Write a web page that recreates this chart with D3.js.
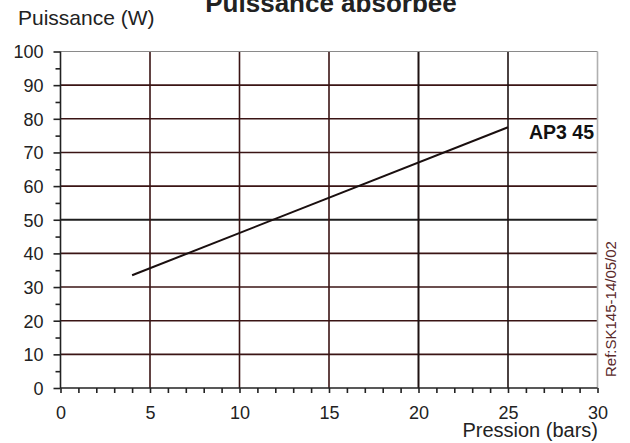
<!DOCTYPE html>
<html>
<head>
<meta charset="utf-8">
<script src="https://cdn.jsdelivr.net/npm/d3@7"></script>
<style>
  body { margin: 0; background: #fff; }
  svg { display: block; font-family: Arial, "Liberation Sans", sans-serif; }
</style>
</head>
<body>
<svg id="svg" width="630" height="443"></svg>
<script>
// chart values
const title = "Puissance absorbee";
const yLabel = "Puissance (W)";
const xLabel = "Pression (bars)";
const seriesName = "AP3 45";
const refText = "Ref:SK145-14/05/02";
const pressure = [4, 25];
const power = [33.5, 77.5];
const xTicks = [0, 5, 10, 15, 20, 25, 30];
const yTicks = [0, 10, 20, 30, 40, 50, 60, 70, 80, 90, 100];

const m = { left: 60.5, right: 597.5, top: 51.5, bottom: 388 };

const svg = d3.select("#svg");
const x = d3.scaleLinear().domain([0, 30]).range([m.left, m.right]);
const y = d3.scaleLinear().domain([0, 100]).range([m.bottom, m.top]);

const grid = "#3a1414";

// horizontal grid
svg.append("g").selectAll("line").data(yTicks.filter(d => d > 0 && d < 100)).join("line")
  .attr("x1", m.left).attr("x2", m.right)
  .attr("y1", d => y(d)).attr("y2", d => y(d))
  .attr("stroke", d => d === 50 ? "#1e1e1e" : grid)
  .attr("stroke-width", d => d === 50 ? 2 : 1.6);

// vertical grid
svg.append("g").selectAll("line").data(xTicks.filter(d => d > 0 && d < 30)).join("line")
  .attr("y1", m.top).attr("y2", m.bottom)
  .attr("x1", d => x(d)).attr("x2", d => x(d))
  .attr("stroke", d => d === 20 || d === 25 ? "#1e1212" : grid)
  .attr("stroke-width", d => d === 20 ? 2 : 1.6);

// top and right frame (grey)
svg.append("line").attr("x1", m.left).attr("x2", m.right).attr("y1", m.top).attr("y2", m.top)
  .attr("stroke", "#8a8a8a").attr("stroke-width", 1.2);
svg.append("line").attr("x1", m.right).attr("x2", m.right).attr("y1", m.top).attr("y2", m.bottom)
  .attr("stroke", "#b0b0b0").attr("stroke-width", 1.6);

// axes
const yAxis = d3.axisLeft(y).tickValues(d3.range(0, 101, 5)).tickSize(6)
  .tickFormat(d => d % 10 === 0 ? d : "");
const gy = svg.append("g").attr("transform", `translate(${m.left},0)`).call(yAxis);
gy.selectAll("line").attr("stroke", "#222").attr("stroke-width", 1.6)
  .attr("x2", d => d % 10 === 0 ? -7 : -5);
gy.select(".domain").attr("stroke", "#222").attr("stroke-width", 1.6).attr("d", `M0,${m.bottom}V${m.top}`);
gy.selectAll("text").attr("font-size", 18).attr("fill", "#222").attr("x", -17).attr("dy", "0.36em");

const xAxis = d3.axisBottom(x).tickValues(d3.range(0, 31, 1)).tickSize(5)
  .tickFormat(d => d % 5 === 0 ? d : "");
const gx = svg.append("g").attr("transform", `translate(0,${m.bottom})`).call(xAxis);
gx.selectAll("line").attr("stroke", "#222").attr("stroke-width", 1.6);
gx.select(".domain").attr("stroke", "#222").attr("stroke-width", 1.6).attr("d", `M${m.left},0H${m.right}`);
gx.selectAll("text").attr("font-size", 18).attr("fill", "#222").attr("y", 18).attr("dy", "0.71em");

// data line
const pts = pressure.map((p, i) => [p, power[i]]);
svg.append("path").datum(pts)
  .attr("d", d3.line().x(d => x(d[0])).y(d => y(d[1])))
  .attr("fill", "none").attr("stroke", "#1a0f0f").attr("stroke-width", 2);

// texts
svg.append("text").attr("x", 331).attr("y", 12).attr("text-anchor", "middle")
  .attr("font-size", 26).attr("font-weight", "bold").attr("fill", "#222").text(title);
svg.append("text").attr("x", 18).attr("y", 25)
  .attr("font-size", 21).attr("fill", "#222").text(yLabel);
svg.append("text").attr("x", 598).attr("y", 437).attr("text-anchor", "end")
  .attr("font-size", 20).attr("fill", "#222").text(xLabel);
svg.append("text").attr("x", 594).attr("y", y(power[1]) + 12).attr("text-anchor", "end")
  .attr("font-size", 19.5).attr("font-weight", "bold").attr("fill", "#111").text(seriesName);
svg.append("text").attr("transform", "translate(616,377) rotate(-90)")
  .attr("font-size", 15).attr("fill", "#5a2a2a").text(refText);
</script>
</body>
</html>
